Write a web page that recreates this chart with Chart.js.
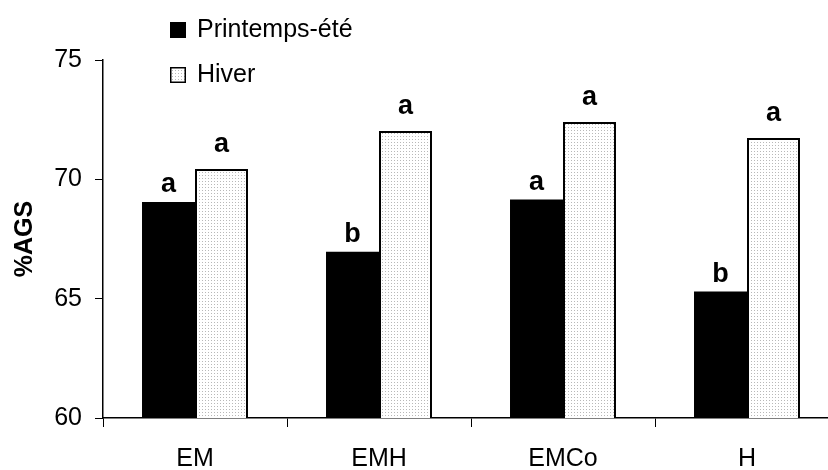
<!DOCTYPE html>
<html>
<head>
<meta charset="utf-8">
<script src="https://cdn.jsdelivr.net/npm/chart.js@4"></script>
<style>
  body { margin: 0; background: #fff; overflow: hidden; }
  #wrap { width: 860px; height: 470px; }
</style>
</head>
<body>
<div id="wrap"><canvas id="agsChart"></canvas></div>
<script>
// data
const categories = ['EM', 'EMH', 'EMCo', 'H'];
const seriesNames = ['Printemps-été', 'Hiver'];
const printempsEte = [69.05, 66.97, 69.15, 65.3];
const hiver = [70.43, 72.03, 72.4, 71.73];
const lettersPrintemps = ['a', 'b', 'a', 'b'];
const lettersHiver = ['a', 'a', 'a', 'a'];
const yTicks = [60, 65, 70, 75];

const FONT = "'Liberation Sans', Arial, sans-serif";

// dotted fill like the original's light pattern
function dotPattern() {
    const c = document.createElement('canvas');
    c.width = 3; c.height = 3;
    const g = c.getContext('2d');
    g.fillStyle = '#ffffff';
    g.fillRect(0, 0, 3, 3);
    g.fillStyle = '#b8b8b8';
    g.fillRect(1, 1, 1, 1);
    return g.createPattern(c, 'repeat');
}

const ctx = document.getElementById('agsChart').getContext('2d');
const dots = dotPattern();

const letterPlugin = {
    id: 'letters',
    afterDatasetsDraw(chart) {
        const c = chart.ctx;
        const sets = [lettersPrintemps, lettersHiver];
        const gaps = [10, 17];
        c.save();
        c.font = 'bold 27px ' + FONT;
        c.fillStyle = '#000';
        c.textAlign = 'center';
        c.textBaseline = 'alphabetic';
        sets.forEach(function(letters, i) {
            chart.getDatasetMeta(i).data.forEach(function(bar, j) {
                c.fillText(letters[j], bar.x, bar.y - gaps[i]);
            });
        });
        c.restore();
    }
};

const legendPlugin = {
    id: 'sideLegend',
    afterDraw(chart) {
        const c = chart.ctx;
        const rows = [22, 67];
        c.save();
        c.font = '25px ' + FONT;
        c.textBaseline = 'alphabetic';
        chart.data.datasets.forEach(function(ds, i) {
            const y = rows[i];
            c.fillStyle = ds.backgroundColor;
            c.fillRect(170, y, 16, 16);
            c.strokeStyle = '#000';
            c.lineWidth = 1.5;
            c.strokeRect(170.75, y + 0.75, 14.5, 14.5);
            c.fillStyle = '#000';
            c.fillText(ds.label, 197, y + 15);
        });
        c.restore();
    }
};

new Chart(ctx, {
    type: 'bar',
    data: {
        labels: categories,
        datasets: [{
            label: seriesNames[0],
            data: printempsEte,
            backgroundColor: '#000000',
            borderColor: '#000000',
            borderWidth: 0
        }, {
            label: seriesNames[1],
            data: hiver,
            backgroundColor: dots,
            borderColor: '#000000',
            borderWidth: 2
        }]
    },
    options: {
        responsive: true,
        maintainAspectRatio: false,
        animation: false,
        categoryPercentage: 0.576,
        barPercentage: 1,
        layout: { padding: { top: 60, right: 21, left: 0, bottom: 0 } },
        plugins: {
            legend: { display: false },
            tooltip: { enabled: false }
        },
        scales: {
            x: {
                grid: { drawOnChartArea: false, drawTicks: true, tickLength: 9, color: '#000', offset: true },
                border: { color: '#000', width: 1.5 },
                ticks: { color: '#000', font: { family: FONT, size: 25 }, padding: 17 },
                afterFit(scale) { scale.height = 52; }
            },
            y: {
                min: 60,
                max: 75,
                afterBuildTicks(scale) { scale.ticks = yTicks.map(v => ({ value: v })); },
                grid: { drawOnChartArea: false, drawTicks: true, tickLength: 8, color: '#000' },
                border: { color: '#000', width: 1.5 },
                ticks: { color: '#000', font: { family: FONT, size: 25 }, padding: 13 },
                title: {
                    display: true,
                    text: '%AGS',
                    color: '#000',
                    font: { family: FONT, size: 25, weight: 'bold' },
                    padding: { top: 10, bottom: 0 }
                },
                afterFit(scale) { scale.width = 103; }
            }
        }
    },
    plugins: [letterPlugin, legendPlugin]
});
</script>
</body>
</html>
